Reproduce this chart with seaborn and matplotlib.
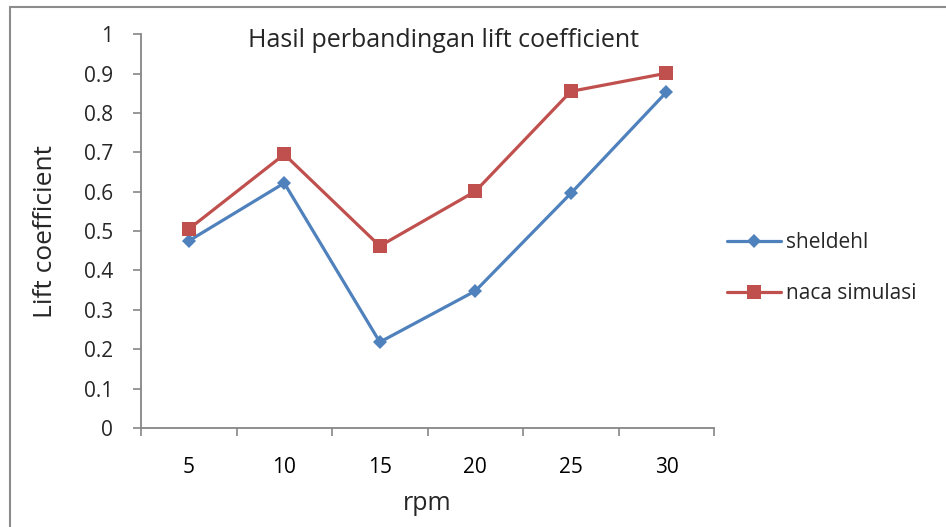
import pandas as pd
import matplotlib.pyplot as plt
import seaborn as sns
from matplotlib.patches import Rectangle

# data
rpm = ["5", "10", "15", "20", "25", "30"]
sheldehl = [0.475, 0.622, 0.218, 0.348, 0.596, 0.853]
naca_simulasi = [0.505, 0.695, 0.462, 0.601, 0.855, 0.901]
y_ticks = [0, 0.1, 0.2, 0.3, 0.4, 0.5, 0.6, 0.7, 0.8, 0.9, 1]
y_tick_labels = ["0", "0.1", "0.2", "0.3", "0.4", "0.5", "0.6", "0.7", "0.8", "0.9", "1"]

df = pd.DataFrame({
    "pos": list(range(len(rpm))) * 2,
    "value": sheldehl + naca_simulasi,
    "series": ["sheldehl"] * len(rpm) + ["naca simulasi"] * len(rpm),
})

sns.set_style("white")
plt.rcParams["font.family"] = ["Open Sans", "DejaVu Sans"]

fig = plt.figure(figsize=(9.46, 5.27), dpi=100)
ax = fig.add_axes([0.149, 0.188, 0.606, 0.747])

# thin grey frame round the chart area
fig.patches.append(Rectangle((10 / 946, -0.05), 1.2, 1 - 7 / 527 + 0.05,
                             transform=fig.transFigure, fill=False,
                             edgecolor="#8c8c8c", linewidth=1.5))

palette = {"sheldehl": "#4F81BD", "naca simulasi": "#C0504D"}
sns.lineplot(data=df, x="pos", y="value", hue="series", style="series",
             markers={"sheldehl": "D", "naca simulasi": "s"}, dashes=False,
             palette=palette, linewidth=2.3, markersize=9, markeredgewidth=0,
             ax=ax)

# square marker a bit larger, like the original
for line in ax.get_lines():
    if line.get_marker() == "s":
        line.set_markersize(10.5)
    elif line.get_marker() == "D":
        line.set_markersize(7.5)

ax.set_xlim(-0.5, len(rpm) - 0.5)
ax.set_ylim(0, 1)
ax.set_xticks(range(len(rpm)))
ax.set_xticklabels(rpm)
ax.set_xticks([i - 0.5 for i in range(len(rpm) + 1)], minor=True)
ax.set_yticks(y_ticks)
ax.set_yticklabels(y_tick_labels)

ax.tick_params(axis="x", which="major", length=0, pad=21, labelsize=15, colors="#000000")
ax.tick_params(axis="x", which="minor", length=6, width=1.2, color="#868686", direction="out")
ax.tick_params(axis="y", length=6, width=1.2, color="#868686", direction="out", pad=14, labelsize=15)
ax.xaxis.set_tick_params(bottom=True, which="both")
ax.yaxis.set_tick_params(left=True)

for s in ["top", "right"]:
    ax.spines[s].set_visible(False)
for s in ["left", "bottom"]:
    ax.spines[s].set_color("#868686")
    ax.spines[s].set_linewidth(1.3)

ax.set_xlabel("rpm", fontsize=18, labelpad=9)
ax.set_ylabel("Lift coefficient", fontsize=19, labelpad=19)
ax.text(0.527, 0.985, "Hasil perbandingan lift coefficient", transform=ax.transAxes,
        fontsize=18, ha="center", va="center")

leg = ax.legend(loc="center left", bbox_to_anchor=(0.99, 0.406), frameon=False,
                fontsize=15, handlelength=2.6, handletextpad=0.2, labelspacing=1.45)
for h in leg.legend_handles:
    h.set_linewidth(2.3)

plt.savefig("out.png", dpi=100)
plt.close()
